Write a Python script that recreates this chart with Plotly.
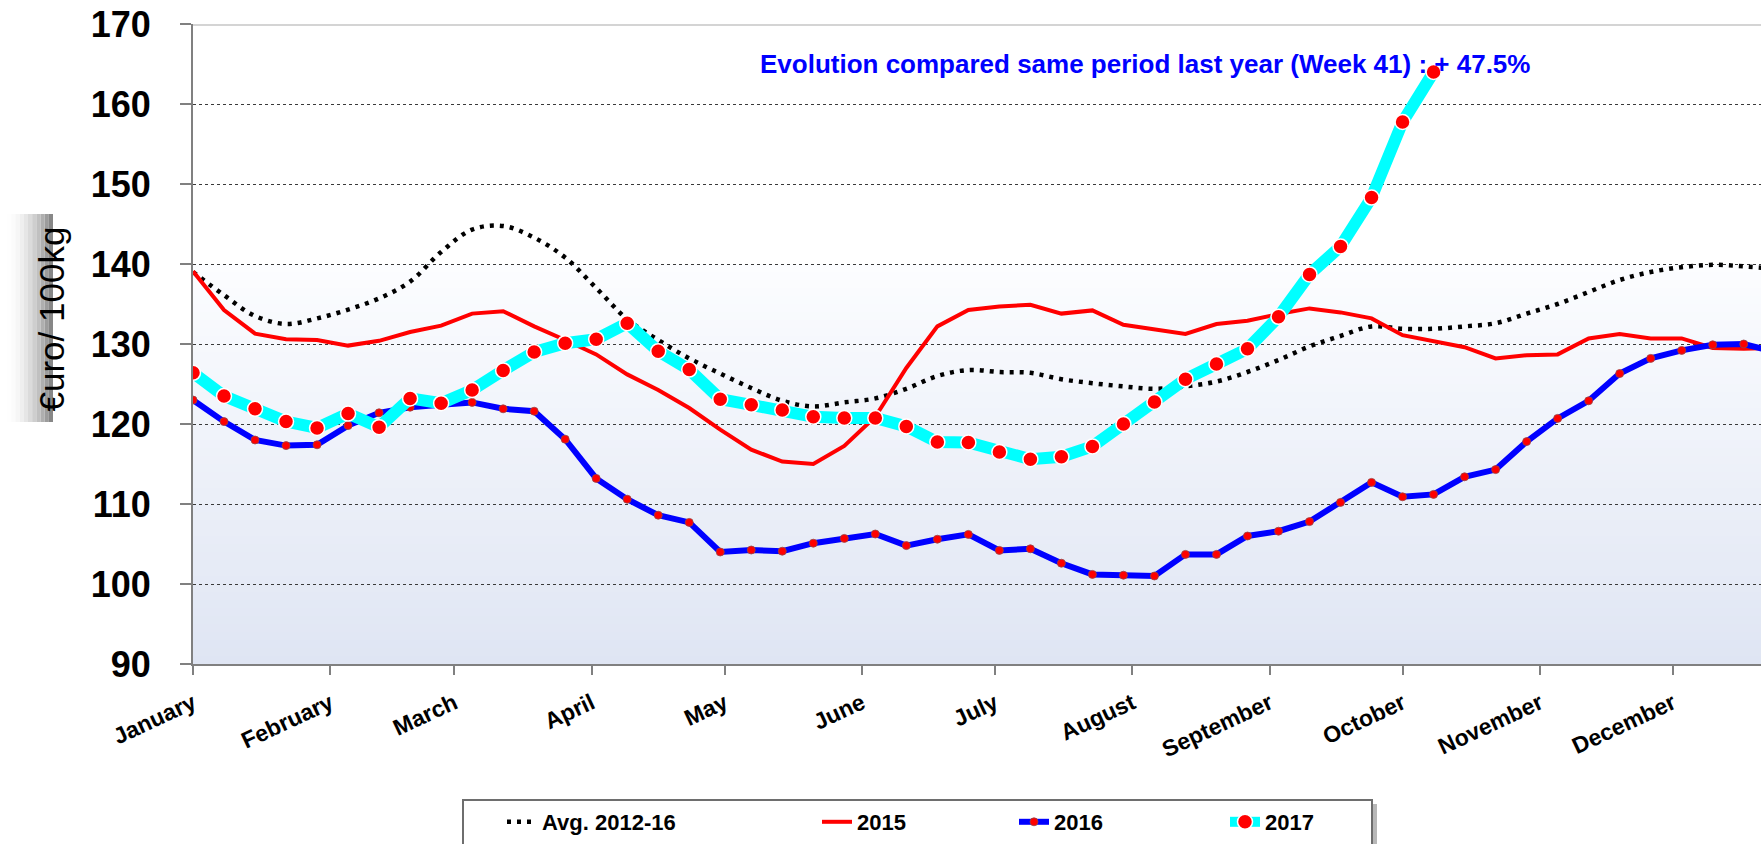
import pandas as pd
import plotly.graph_objects as go

# Weekly prices, €/100kg (week 1 = first week of January)
avg_2012_16 = [139.0, 136.1, 133.5, 132.5, 133.2, 134.3, 135.7, 137.8, 141.5, 144.3,
               144.75, 143.3, 140.8, 137.0, 133.1, 130.5, 128.2, 126.3, 124.5, 122.9,
               122.2, 122.7, 123.2, 124.4, 126.0, 126.75, 126.5, 126.4, 125.6, 125.1,
               124.7, 124.4, 124.7, 125.3, 126.5, 128.0, 129.7, 131.0, 132.2, 131.9,
               131.9, 132.2, 132.6, 133.8, 135.0, 136.5, 138.0, 139.0, 139.6, 139.9,
               139.7, 139.4]
y2015 = [139.1, 134.25, 131.3, 130.6, 130.5, 129.8, 130.4, 131.5, 132.3, 133.8,
         134.1, 132.2, 130.5, 128.7, 126.2, 124.25, 122.0, 119.3, 116.8, 115.3,
         115.0, 117.25, 120.9, 127.0, 132.2, 134.25, 134.7, 134.9, 133.8, 134.2,
         132.4, 131.8, 131.25, 132.5, 132.9, 133.75, 134.45, 133.95, 133.2, 131.1,
         130.3, 129.6, 128.2, 128.6, 128.7, 130.7, 131.25, 130.7, 130.7, 129.5,
         129.4, 129.5]
y2016 = [123.0, 120.3, 118.0, 117.3, 117.4, 119.8, 121.4, 122.1, 122.4, 122.7,
         121.9, 121.6, 118.1, 113.2, 110.6, 108.6, 107.7, 104.0, 104.25, 104.1,
         105.1, 105.7, 106.25, 104.8, 105.6, 106.2, 104.2, 104.4, 102.6, 101.2,
         101.1, 101.0, 103.7, 103.7, 106.0, 106.6, 107.8, 110.2, 112.7, 110.9,
         111.2, 113.4, 114.3, 117.8, 120.7, 122.9, 126.3, 128.2, 129.2, 129.9,
         130.0, 129.0]
y2017 = [126.4, 123.5, 121.9, 120.3, 119.5, 121.3, 119.6, 123.2, 122.6, 124.25,
         126.7, 129.0, 130.1, 130.6, 132.6, 129.1, 126.8, 123.1, 122.4, 121.75,
         120.9, 120.75, 120.75, 119.7, 117.75, 117.7, 116.5, 115.6, 115.9, 117.2,
         120.0, 122.75, 125.6, 127.5, 129.4, 133.4, 138.7, 142.2, 148.3, 157.75,
         164.0]
series_names = ["Avg. 2012-16", "2015", "2016", "2017"]
y_ticks = [90, 100, 110, 120, 130, 140, 150, 160, 170]

weeks = pd.date_range("2017-01-01", periods=len(avg_2012_16), freq="7D")
week_no = len(y2017)
change = (y2017[week_no - 1] / y2016[week_no - 1] - 1) * 100

W, H = 1761, 844
L, R, T, B = 193, 0, 24, 180
PW, PH = W - L - R, H - T - B


def px_x(p):
    return (p - L) / PW


def px_y(p):
    return (H - B - p) / PH


fig = go.Figure()

fig.add_trace(go.Scatter(
    x=weeks, y=avg_2012_16, name=series_names[0], mode="lines",
    line=dict(color="black", width=4.5, dash="4px,6px", shape="spline", smoothing=1.0),
    legend="legend"))
fig.add_trace(go.Scatter(
    x=weeks, y=y2015, name=series_names[1], mode="lines",
    line=dict(color="#ff0000", width=4), legend="legend2"))
fig.add_trace(go.Scatter(
    x=weeks, y=y2016, name=series_names[2], mode="lines+markers",
    line=dict(color="#0000ff", width=6),
    marker=dict(color="#ff0000", size=8, line=dict(color="rgba(150,70,70,0.8)", width=1)),
    legend="legend3"))
fig.add_trace(go.Scatter(
    x=weeks[:len(y2017)], y=y2017, name=series_names[3], mode="lines+markers",
    line=dict(color="#00ffff", width=12),
    marker=dict(color="#ff0000", size=15, line=dict(color="white", width=1.5)),
    legend="legend4"))

# plot background: white above 140, soft blue gradient down to 90
shapes = []
top_c, bot_c = (252, 253, 255), (223, 229, 243)
for k in range(50):
    t = (k + 0.5) / 50
    c = tuple(round(top_c[j] + (bot_c[j] - top_c[j]) * t) for j in range(3))
    shapes.append(dict(type="rect", xref="paper", yref="y", x0=0, x1=1,
                       y0=140 - k - 1, y1=140 - k, fillcolor="rgb(%d,%d,%d)" % c,
                       line=dict(width=0), layer="below"))
# top edge of the plot frame
shapes.append(dict(type="line", xref="paper", yref="y", x0=0, x1=1, y0=170, y1=170,
                   line=dict(color="#d4d4d4", width=4), layer="above"))

# y-axis title box with a shaded edge
bx0, bx1, by0, by1 = 3, 53, 214, 422
steps = 12
for k in range(steps):
    t = k / (steps - 1)
    g = round(255 - 120 * t ** 2)
    xa = bx0 + (bx1 - bx0) * k / steps
    xb = bx0 + (bx1 - bx0) * (k + 1) / steps
    shapes.append(dict(type="rect", xref="paper", yref="paper",
                       x0=px_x(xa), x1=px_x(xb), y0=px_y(by1), y1=px_y(by0),
                       fillcolor="rgb(%d,%d,%d)" % (g, g, g), line=dict(width=0)))

# legend frame
lx0, lx1, ly0, ly1 = 463, 1372, 800, 850
shapes.append(dict(type="rect", xref="paper", yref="paper",
                   x0=px_x(lx0 + 4), x1=px_x(lx1 + 5), y0=px_y(ly1), y1=px_y(ly0 + 4),
                   fillcolor="#b8b8b8", line=dict(width=0)))
shapes.append(dict(type="rect", xref="paper", yref="paper",
                   x0=px_x(lx0), x1=px_x(lx1), y0=px_y(ly1), y1=px_y(ly0),
                   fillcolor="white", line=dict(color="#6e6e6e", width=2)))

fig.update_layout(shapes=shapes)

fig.add_annotation(
    x=px_x(1145), y=165, xref="paper", yref="y", showarrow=False,
    text="Evolution compared same period last year (Week %d) : + %.1f%%" % (week_no, change),
    font=dict(family="Liberation Sans", size=26, color="#0000ff", weight="bold"))
fig.add_annotation(
    x=px_x(29), y=px_y(319), xref="paper", yref="paper", showarrow=False,
    text="€uro/ 100kg", textangle=-90,
    font=dict(family="Liberation Sans", size=35, color="black"))

legend_font = dict(family="Liberation Sans", size=22, color="black", weight="bold")
leg_common = dict(orientation="h", bgcolor="rgba(0,0,0,0)", borderwidth=0,
                  yanchor="middle", xanchor="left", font=legend_font, y=px_y(822))
text_starts = [544, 859, 1056, 1267]
fig.update_layout(
    legend=dict(x=px_x(text_starts[0] - 42), **leg_common),
    legend2=dict(x=px_x(text_starts[1] - 42), **leg_common),
    legend3=dict(x=px_x(text_starts[2] - 42), **leg_common),
    legend4=dict(x=px_x(text_starts[3] - 42), **leg_common),
)

fig.update_layout(
    width=W, height=H, autosize=False,
    margin=dict(l=L, r=R, t=T, b=B, pad=0),
    paper_bgcolor="white", plot_bgcolor="white",
    showlegend=True,
    xaxis=dict(
        type="date", range=["2017-01-01", "2017-12-20 21:36"],
        tick0="2017-01-01", dtick="M1", tickformat="%B",
        tickangle=-25, ticks="outside", ticklen=9, tickcolor="#808080", tickwidth=1.5,
        showline=True, linecolor="#808080", linewidth=2, showgrid=False, zeroline=False,
        tickfont=dict(family="Liberation Sans", size=23, color="black", weight="bold"),
        ticklabelstandoff=6,
    ),
    yaxis=dict(
        range=[90, 170], tickvals=y_ticks,
        ticks="outside", ticklen=11, tickcolor="#808080", tickwidth=1.5,
        showline=True, linecolor="#808080", linewidth=2,
        showgrid=True, gridcolor="#3a3a3a", gridwidth=1, griddash="dot",
        zeroline=False,
        tickfont=dict(family="Liberation Sans", size=36, color="black", weight="bold"),
        ticklabelstandoff=22,
    ),
)

fig.write_html("out.html")
